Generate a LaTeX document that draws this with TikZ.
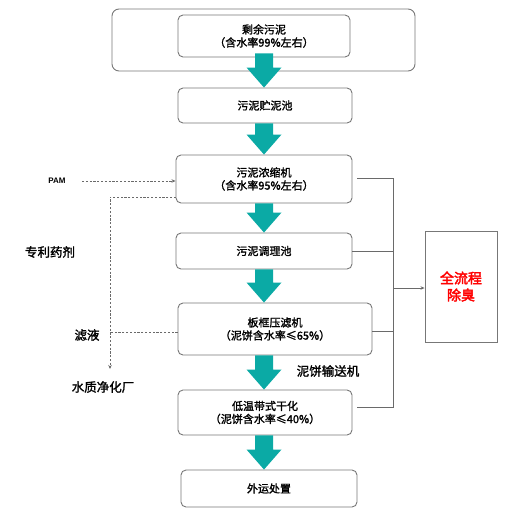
\documentclass[tikz,border=0pt]{standalone}
\usepackage{fontspec}
\setmainfont{Liberation Sans}
\newfontfamily\cjk{Noto Sans CJK SC}[FakeBold=1.6]
\newfontfamily\cjkbf{Noto Sans CJK SC}[FakeBold=2.6]
\usetikzlibrary{calc,arrows.meta}
\definecolor{arrowteal}{HTML}{0BAAA5}
\definecolor{boxgray}{HTML}{777777}
\definecolor{linegray}{HTML}{6A6A6A}
\begin{document}
\begin{tikzpicture}[x=1pt,y=-1pt,
  proc/.style={draw=boxgray,line width=0.9pt,rounded corners=5pt,fill=white,
    align=center,inner sep=0pt,font=\cjk\fontsize{11}{13}\selectfont},
  lbl/.style={font=\cjk\fontsize{12.5}{14}\selectfont,inner sep=0pt},
  conn/.style={draw=linegray,line width=0.8pt},
  dconn/.style={draw=linegray,line width=0.7pt,dash pattern=on 2.2pt off 1.6pt},
  tip/.style={-{Stealth[length=4pt,width=3.5pt]}}]
\useasboundingbox (0,0) rectangle (529,512);
% outer rounded frame
\node[draw=boxgray,line width=0.9pt,rounded corners=7pt,minimum width=303pt,minimum height=62pt,inner sep=0pt] (outer) at (263.5,40) {};
% process boxes
\node[proc,minimum width=172pt,minimum height=42pt] (b1) at (264,36) {剩余污泥\\（含水率99\%左右）};
\node[proc,minimum width=174pt,minimum height=35pt] (b2) at (265,105.5) {污泥贮泥池};
\node[proc,minimum width=176pt,minimum height=48pt] (b3) at (264,179) {污泥浓缩机\\（含水率95\%左右）};
\node[proc,minimum width=176pt,minimum height=36pt] (b4) at (264,251) {污泥调理池};
\node[proc,minimum width=194pt,minimum height=52pt] (b5) at (275,329) {板框压滤机\\（泥饼含水率≤65\%）};
\node[proc,minimum width=174pt,minimum height=45pt] (b6) at (265,412.5) {低温带式干化\\（泥饼含水率≤40\%）};
\node[proc,minimum width=176pt,minimum height=37pt] (b7) at (269,488.5) {外运处置};
% deodorisation box
\node[draw=boxgray,line width=0.9pt,minimum width=72pt,minimum height=111pt,inner sep=0pt,
  align=center,text=red,font=\cjkbf\fontsize{14}{17}\selectfont] (b8) at (461,286.5) {全流程\\除臭};
% block arrows
\coordinate (ax) at (264,0);
\newcommand{\blockarrow}[3]{%
  \fill[arrowteal] ($(ax |- #1.south)+(-9,#3)$) -- ($(ax |- #2.north)+(-9,-20)$) -- ($(ax |- #2.north)+(-17.5,-20)$)
    -- (ax |- #2.north) -- ($(ax |- #2.north)+(17.5,-20)$) -- ($(ax |- #2.north)+(9,-20)$) -- ($(ax |- #1.south)+(9,#3)$) -- cycle;}
\blockarrow{b1}{b2}{-4}
\blockarrow{b2}{b3}{0}
\blockarrow{b3}{b4}{0}
\blockarrow{b4}{b5}{0}
\blockarrow{b5}{b6}{0}
\blockarrow{b6}{b7}{0}
% labels on the left and the conveyor
\node[font=\bfseries\fontsize{8}{9}\selectfont,inner sep=0pt] (pam) at (57,181) {PAM};
\node[lbl] (agent) at (50,252) {专利药剂};
\node[lbl] (filt) at (87,335) {滤液};
\node[lbl] (plant) at (103,387) {水质净化厂};
\node[lbl] (conv) at (328,371) {泥饼输送机};
% dashed connectors on the left
\coordinate (pamstart) at (82,181);
\draw[dconn,tip] (pamstart) -- (b3.west |- pamstart);
\coordinate (b3out) at (176,197);
\coordinate (corner) at (110,197);
\coordinate (plantin) at (110,369);
\draw[dconn,tip] (b3out) -- (corner) -- (plantin);
\coordinate (filtjoin) at (110,332);
\draw[dconn] (b5.west |- filtjoin) -- (filtjoin);
% odour collection lines on the right
\coordinate (bus) at (393,0);
\coordinate (b3r) at (357,178);
\coordinate (b6r) at (357,407);
\draw[conn] (b3r) -- (bus |- b3r) -- (bus |- b6r) -- (b6r);
\draw[conn] (b4.east |- 0,251) -- (bus |- 0,251);
\draw[conn] (b5.east |- 0,331) -- (bus |- 0,331);
\draw[conn,tip] (bus |- 0,288) -- (b8.west |- 0,288);
\end{tikzpicture}
\end{document}
